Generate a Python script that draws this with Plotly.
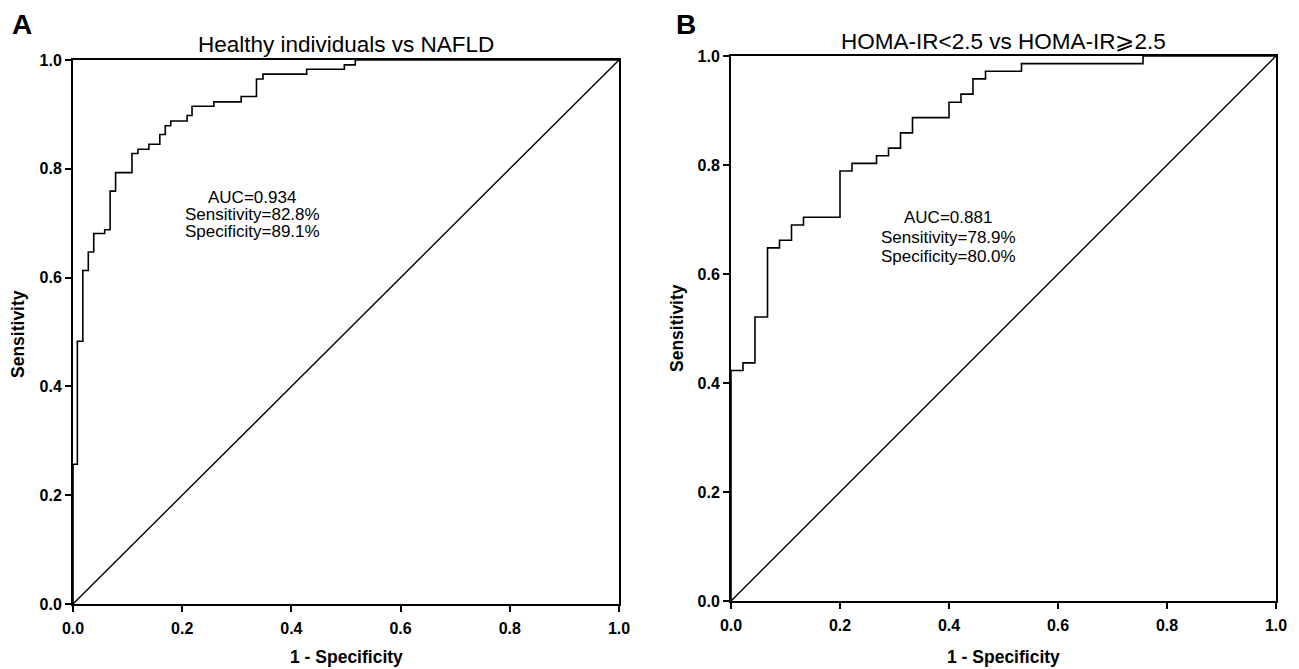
import plotly.graph_objects as go

# ---------------- data ----------------
# Panel A: Healthy individuals vs NAFLD (ROC points)
fpr_a = [0, 0, 0.008, 0.008, 0.018, 0.018, 0.028, 0.028, 0.038, 0.038, 0.058, 0.058,
         0.068, 0.068, 0.078, 0.078, 0.108, 0.108, 0.119, 0.119, 0.139, 0.139, 0.159, 0.159,
         0.169, 0.169, 0.179, 0.179, 0.209, 0.209, 0.218, 0.218, 0.258, 0.258, 0.308, 0.308,
         0.336, 0.336, 0.348, 0.348, 0.428, 0.428, 0.497, 0.497, 0.517, 0.517, 1.0]
tpr_a = [0, 0.257, 0.257, 0.483, 0.483, 0.613, 0.613, 0.647, 0.647, 0.681, 0.681, 0.688,
         0.688, 0.759, 0.759, 0.793, 0.793, 0.828, 0.828, 0.836, 0.836, 0.845, 0.845, 0.863,
         0.863, 0.879, 0.879, 0.888, 0.888, 0.898, 0.898, 0.915, 0.915, 0.923, 0.923, 0.933,
         0.933, 0.965, 0.965, 0.974, 0.974, 0.983, 0.983, 0.991, 0.991, 1.0, 1.0]

# Panel B: HOMA-IR<2.5 vs HOMA-IR>=2.5 (ROC points)
fpr_b = [0, 0, 0.022, 0.022, 0.044, 0.044, 0.067, 0.067, 0.089, 0.089, 0.111, 0.111,
         0.133, 0.133, 0.200, 0.200, 0.222, 0.222, 0.267, 0.267, 0.289, 0.289, 0.311, 0.311,
         0.333, 0.333, 0.400, 0.400, 0.422, 0.422, 0.444, 0.444, 0.467, 0.467, 0.533, 0.533,
         0.756, 0.756, 1.0]
tpr_b = [0, 0.423, 0.423, 0.437, 0.437, 0.521, 0.521, 0.648, 0.648, 0.662, 0.662, 0.690,
         0.690, 0.704, 0.704, 0.789, 0.789, 0.803, 0.803, 0.817, 0.817, 0.831, 0.831, 0.859,
         0.859, 0.887, 0.887, 0.915, 0.915, 0.930, 0.930, 0.958, 0.958, 0.972, 0.972, 0.986,
         0.986, 1.0, 1.0]

ref_line = [0, 1]
tick_vals = [0, 0.2, 0.4, 0.6, 0.8, 1.0]
tick_text = ["0.0", "0.2", "0.4", "0.6", "0.8", "1.0"]

titles = ["Healthy individuals vs NAFLD", "HOMA-IR<2.5 vs HOMA-IR\u2a7e2.5"]
panel_labels = ["A", "B"]
stats_a = ["AUC=0.934", "Sensitivity=82.8%", "Specificity=89.1%"]
stats_b = ["AUC=0.881", "Sensitivity=78.9%", "Specificity=80.0%"]

# ---------------- figure ----------------
W, H = 1299, 669
fig = go.Figure()

doms = {
    "a": dict(x=[73 / W, 619 / W], y=[1 - 604 / H, 1 - 60 / H]),
    "b": dict(x=[731 / W, 1276 / W], y=[1 - 601 / H, 1 - 56 / H]),
}

line_style = dict(color="black", width=1.6)
diag_style = dict(color="black", width=1.4)
fig.add_trace(go.Scatter(x=fpr_a, y=tpr_a, mode="lines", line=line_style,
                         xaxis="x", yaxis="y", showlegend=False, hoverinfo="skip"))
fig.add_trace(go.Scatter(x=ref_line, y=ref_line, mode="lines", line=diag_style,
                         xaxis="x", yaxis="y", showlegend=False, hoverinfo="skip"))
fig.add_trace(go.Scatter(x=fpr_b, y=tpr_b, mode="lines", line=line_style,
                         xaxis="x2", yaxis="y2", showlegend=False, hoverinfo="skip"))
fig.add_trace(go.Scatter(x=ref_line, y=ref_line, mode="lines", line=diag_style,
                         xaxis="x2", yaxis="y2", showlegend=False, hoverinfo="skip"))

tick_font = dict(family="Liberation Sans, Arial", size=16, color="black", weight="bold")
axis_common = dict(range=[0, 1], showgrid=False, zeroline=False, showline=True,
                   linecolor="black", linewidth=2, mirror=True, ticks="outside",
                   ticklen=6, tickwidth=1.5, tickcolor="black", tickvals=tick_vals,
                   ticktext=tick_text, tickfont=tick_font, fixedrange=True,
                   automargin=False)

fig.update_layout(
    width=W, height=H,
    margin=dict(l=0, r=0, t=0, b=0, pad=0, autoexpand=False),
    paper_bgcolor="white", plot_bgcolor="white",
    xaxis=dict(domain=doms["a"]["x"], anchor="y", ticklabelstandoff=3, **axis_common),
    yaxis=dict(domain=doms["a"]["y"], anchor="x", **axis_common),
    xaxis2=dict(domain=doms["b"]["x"], anchor="y2", ticklabelstandoff=3, **axis_common),
    yaxis2=dict(domain=doms["b"]["y"], anchor="x2", **axis_common),
)

ann = []
txt_font = dict(family="Liberation Sans, Arial", size=17, color="black")
title_font = dict(family="Liberation Sans, Arial", size=22.5, color="black")
lab_font = dict(family="Liberation Sans, Arial", size=28, color="black", weight="bold")
axt_font = dict(family="Liberation Sans, Arial", size=17.5, color="black", weight="bold")


def px(xp):
    return xp / W


def py(yp):
    return 1 - yp / H


# panel labels
ann.append(dict(text=panel_labels[0], x=px(22), y=py(25), xref="paper", yref="paper",
                showarrow=False, font=lab_font, xanchor="center", yanchor="middle"))
ann.append(dict(text=panel_labels[1], x=px(686), y=py(25), xref="paper", yref="paper",
                showarrow=False, font=lab_font, xanchor="center", yanchor="middle"))
# titles
ann.append(dict(text=titles[0], x=px(346), y=py(45), xref="paper", yref="paper",
                showarrow=False, font=title_font, xanchor="center", yanchor="middle"))
ann.append(dict(text=titles[1], x=px(1003), y=py(42), xref="paper", yref="paper",
                showarrow=False, font=title_font, xanchor="center", yanchor="middle"))
# axis titles
for cx in (346, 1003):
    ann.append(dict(text="1 - Specificity", x=px(cx), y=py(657), xref="paper", yref="paper",
                    showarrow=False, font=axt_font, xanchor="center", yanchor="middle"))
ann.append(dict(text="Sensitivity", x=px(18), y=py(334), xref="paper", yref="paper",
                showarrow=False, font=axt_font, textangle=-90, xanchor="center", yanchor="middle"))
ann.append(dict(text="Sensitivity", x=px(677), y=py(328), xref="paper", yref="paper",
                showarrow=False, font=axt_font, textangle=-90, xanchor="center", yanchor="middle"))
# stats text
for i, s in enumerate(stats_a):
    ann.append(dict(text=s, x=px(252), y=py(197 + 17.5 * i), xref="paper", yref="paper",
                    showarrow=False, font=txt_font, xanchor="center", yanchor="middle"))
for i, s in enumerate(stats_b):
    ann.append(dict(text=s, x=px(948), y=py(218 + 19 * i), xref="paper", yref="paper",
                    showarrow=False, font=txt_font, xanchor="center", yanchor="middle"))

fig.update_layout(annotations=ann)
fig.write_html(
    "out.html",
    config={"displayModeBar": False},
    post_script="document.body.style.margin='0px';document.body.style.overflow='hidden';",
)
